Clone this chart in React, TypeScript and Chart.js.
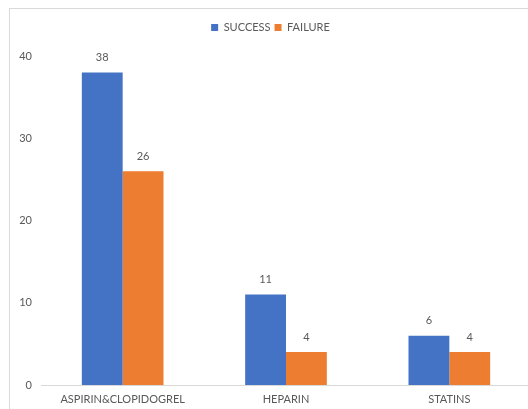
import React, { useEffect, useRef } from "react";
import { Chart, registerables } from "chart.js";

Chart.register(...registerables);

const categories = ["ASPIRIN&CLOPIDOGREL", "HEPARIN", "STATINS"];
const successValues = [38, 11, 6];
const failureValues = [26, 4, 4];
const yTicks = [0, 10, 20, 30, 40];

const FONT = "Lato, sans-serif";
const TEXT = "#595959";

const dataLabels = {
  id: "dataLabels",
  afterDatasetsDraw(chart: any) {
    const ctx = chart.ctx;
    ctx.save();
    ctx.font = `11px ${FONT}`;
    ctx.fillStyle = TEXT;
    ctx.textAlign = "center";
    ctx.textBaseline = "middle";
    chart.data.datasets.forEach((ds: any, i: number) => {
      const meta = chart.getDatasetMeta(i);
      meta.data.forEach((bar: any, j: number) => {
        ctx.fillText(String(ds.data[j]), bar.x, bar.y - 15);
      });
    });
    ctx.restore();
  },
};

const legendSpace = {
  id: "legendSpace",
  beforeLayout(chart: any) {
    const lg = chart.legend;
    if (lg && !lg._patched) {
      const orig = lg.fit;
      lg.fit = function (this: any) {
        orig.call(this);
        this.height += 13;
      };
      lg._patched = true;
    }
  },
};

export default function App() {
  const ref = useRef<HTMLCanvasElement>(null);
  useEffect(() => {
    document.body.style.overflow = "hidden";
    const chart = new Chart(ref.current!, {
      type: "bar",
      data: {
        labels: categories,
        datasets: [
          { label: "SUCCESS", data: successValues, backgroundColor: "#4472C4", categoryPercentage: 0.5, barPercentage: 1 },
          { label: "FAILURE", data: failureValues, backgroundColor: "#ED7D31", categoryPercentage: 0.5, barPercentage: 1 },
        ],
      },
      options: {
        animation: false,
        responsive: false,
        layout: { padding: { top: 9, left: 0, right: 9, bottom: 12 } },
        plugins: {
          legend: {
            display: true,
            position: "top",
            labels: {
              boxWidth: 7,
              boxHeight: 7,
              padding: 4,
              color: TEXT,
              font: { family: FONT, size: 11 },
            },
          },
          tooltip: { enabled: false },
        },
        scales: {
          x: {
            grid: { display: false, drawTicks: false },
            border: { display: true, color: "#d9d9d9", width: 1 },
            ticks: { color: TEXT, font: { family: FONT, size: 11 }, padding: 8, maxRotation: 0 },
            afterFit: (s: any) => { s.height = 22; },
          },
          y: {
            min: 0,
            max: 40,
            afterBuildTicks: (s: any) => { s.ticks = yTicks.map((v) => ({ value: v })); },
            grid: { display: false, drawTicks: false },
            border: { display: false },
            ticks: { color: TEXT, font: { family: FONT, size: 11 }, padding: 9 },
            afterFit: (s: any) => { s.width = 31; },
          },
        },
      },
      plugins: [dataLabels, legendSpace],
    });
    return () => chart.destroy();
  }, []);
  return (
    <div style={{ position: "fixed", left: 0, top: 0, width: 528, height: 409, overflow: "hidden", background: "#fff" }}>
      <div style={{ position: "absolute", left: 9, top: 8, width: 540, height: 420, border: "1px solid #d9d9d9" }}>
        <canvas ref={ref} width={530} height={410} style={{ display: "block" }} />
      </div>
    </div>
  );
}
